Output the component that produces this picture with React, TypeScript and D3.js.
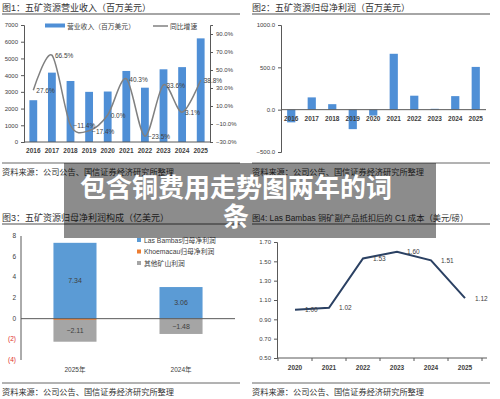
import React, { useEffect, useRef } from "react";
import * as d3 from "d3";

const W = 500;
const H = 399;
const CJK = "'Liberation Sans', 'Noto Sans CJK SC', sans-serif";
const BLUE = "#4f8fd6";
const AXIS = "#595959";
const TXT = "#404040";

// fig 1
const years1 = ["2016", "2017", "2018", "2019", "2020", "2021", "2022", "2023", "2024", "2025"];
const revenue = [2500, 4150, 3650, 3000, 3020, 4250, 3250, 4350, 4480, 6200];
const revGrowth = [27.6, 66.5, -11.4, -17.4, 0.0, 40.3, -23.5, 33.6, 3.1, 38.8];
const revTicksL = [0, 1000, 2000, 3000, 4000, 5000, 6000, 7000];
const revTicksR = [-30, -10, 10, 30, 50, 70, 90];

// fig 2
const netProfit = [-150, 145, 65, -230, -70, 660, 165, 10, 160, 505];
const profitTicks = [-500, 0, 500, 1000];

// fig 3
const mixCats = ["2025年", "2024年"];
const mixKeys = ["lasBambas", "khoemacau", "other"];
const mixNames = ["Las Bambas归母净利润", "Khoemacau归母净利润", "其他矿山利润"];
const mixColors = ["#5b9bd5", "#ed7d31", "#a5a5a5"];
const lasBambas = [7.34, 3.06];
const khoemacau = [-0.12, 0];
const otherMines = [-2.11, -1.48];
const mixTicks = [-4, -2, 0, 2, 4, 6, 8];

// fig 4
const years4 = ["2020", "2021", "2022", "2023", "2024", "2025"];
const c1Cost = [1.0, 1.02, 1.53, 1.6, 1.51, 1.12];
const c1Ticks = [0.5, 0.7, 0.9, 1.1, 1.3, 1.5, 1.7];

const titles = [
  "图1：五矿资源营业收入（百万美元）",
  "图2：五矿资源归母净利润（百万美元）",
  "图3：五矿资源归母净利润构成（亿美元）",
  "图4: Las Bambas 铜矿副产品抵扣后的 C1 成本（美元/磅）",
];
const source = "资料来源：公司公告、国信证券经济研究所整理";
const overlayLines = ["包含铜费用走势图两年的词", "条"];

export default function App() {
  const ref = useRef<SVGSVGElement>(null);

  useEffect(() => {
    const svg = d3.select(ref.current);
    svg.selectAll("*").remove();
    svg.append("rect").attr("width", W).attr("height", H).attr("fill", "#fff");

    // titles + rules
    const frame = (idx: number, x0: number, yTitle: number, yRule: number, ySrcRule: number) => {
      svg.append("text").attr("x", x0).attr("y", yTitle).attr("font-size", idx === 3 ? 8.3 : 9)
        .attr("fill", "#333").text(titles[idx]);
      svg.append("line").attr("x1", x0).attr("x2", x0 + 238).attr("y1", yRule).attr("y2", yRule)
        .attr("stroke", "#a6a6a6").attr("stroke-width", 2);
      svg.append("line").attr("x1", x0).attr("x2", x0 + 238).attr("y1", ySrcRule).attr("y2", ySrcRule)
        .attr("stroke", "#666").attr("stroke-width", 1);
      svg.append("text").attr("x", x0).attr("y", ySrcRule + 12).attr("font-size", 8.2)
        .attr("fill", "#333").text(source);
    };
    frame(0, 2, 11, 14, 163);
    frame(1, 252, 11, 14, 163);
    frame(2, 2, 221, 224, 383);
    frame(3, 252, 221, 224, 383);

    // ---------- fig 1
    {
      const x = d3.scaleBand().domain(years1).range([24, 210]).paddingInner(0.58).paddingOuter(0.29);
      const yL = d3.scaleLinear().domain([0, 7000]).range([142, 25]);
      const yR = d3.scaleLinear().domain([-30, 100]).range([142, 25]);
      const g = svg.append("g");
      g.selectAll("rect.bar").data(revenue).join("rect")
        .attr("x", (_, i) => x(years1[i])!).attr("width", x.bandwidth())
        .attr("y", (d) => yL(d)).attr("height", (d) => yL(0) - yL(d)).attr("fill", BLUE);

      const aL = g.append("g").attr("transform", "translate(24,0)")
        .call(d3.axisLeft(yL).tickValues(revTicksL).tickSize(3).tickFormat(d3.format("d")));
      const aR = g.append("g").attr("transform", "translate(210,0)")
        .call(d3.axisRight(yR).tickValues(revTicksR).tickSize(3).tickFormat((d) => d3.format(".1f")(+d) + "%"));
      const aB = g.append("g").attr("transform", "translate(0,142)")
        .call(d3.axisBottom(x).tickSize(0).tickPadding(6));
      [aL, aR, aB].forEach((a) => {
        a.selectAll("path,line").attr("stroke", AXIS);
        a.selectAll("text").attr("font-size", 6).attr("fill", TXT).attr("font-family", CJK);
      });
      aB.select(".domain").attr("d", "M24,0H210");
      aB.selectAll("text").attr("font-size", 6.5).attr("font-weight", "bold");

      const cx = (i: number) => x(years1[i])! + x.bandwidth() / 2;
      const line = d3.line<number>().x((_, i) => cx(i)).y((d) => yR(d)).curve(d3.curveCardinal.tension(0.1));
      g.append("path").datum(revGrowth).attr("d", line).attr("fill", "none")
        .attr("stroke", "#808080").attr("stroke-width", 1.5);
      g.selectAll("text.lbl").data(revGrowth).join("text").attr("class", "lbl")
        .attr("x", (_, i) => cx(i) + 3).attr("y", (d) => yR(d) + 3)
        .attr("font-size", 6.5).attr("fill", TXT).text((d) => d3.format(".1f")(d) + "%");

      // legend
      g.append("rect").attr("x", 45).attr("y", 23.5).attr("width", 20).attr("height", 4).attr("fill", BLUE);
      g.append("text").attr("x", 67).attr("y", 28.5).attr("font-size", 6.8).attr("fill", TXT).text("营业收入（百万美元）");
      g.append("line").attr("x1", 153).attr("x2", 168).attr("y1", 26).attr("y2", 26)
        .attr("stroke", "#808080").attr("stroke-width", 1.5);
      g.append("text").attr("x", 170).attr("y", 28.5).attr("font-size", 6.8).attr("fill", TXT).text("同比增速");
    }

    // ---------- fig 2
    {
      const x = d3.scaleBand().domain(years1).range([281, 486]).paddingInner(0.6).paddingOuter(0.3);
      const y = d3.scaleLinear().domain([-500, 1000]).range([152, 25]);
      const g = svg.append("g");
      g.selectAll("rect").data(netProfit).join("rect")
        .attr("x", (_, i) => x(years1[i])!).attr("width", x.bandwidth())
        .attr("y", (d) => y(Math.max(0, d))).attr("height", (d) => Math.abs(y(d) - y(0))).attr("fill", BLUE);
      const aL = g.append("g").attr("transform", "translate(281,0)")
        .call(d3.axisLeft(y).tickValues(profitTicks).tickSize(3).tickFormat(d3.format(".1f")));
      const aB = g.append("g").attr("transform", `translate(0,${y(0)})`)
        .call(d3.axisBottom(x).tickSize(0).tickPadding(7));
      [aL, aB].forEach((a) => {
        a.selectAll("path,line").attr("stroke", AXIS);
        a.selectAll("text").attr("font-size", 6).attr("fill", TXT).attr("font-family", CJK);
      });
      aB.select(".domain").attr("d", "M281,0H486");
      aB.selectAll("text").attr("font-size", 6.5).attr("font-weight", "bold");
    }

    // ---------- fig 3
    {
      const x = d3.scaleBand().domain(mixCats).range([21, 235]).paddingInner(0.594).paddingOuter(0.306);
      const y = d3.scaleLinear().domain([-4, 8]).range([360, 236]);
      const rows = mixCats.map((c, i) => ({ cat: c, lasBambas: lasBambas[i], khoemacau: khoemacau[i], other: otherMines[i] }));
      const series = d3.stack<any>().keys(mixKeys).offset(d3.stackOffsetDiverging)(rows);
      const g = svg.append("g");
      series.forEach((s, k) => {
        g.selectAll(`rect.s${k}`).data(s).join("rect").attr("class", `s${k}`)
          .attr("x", (d) => x(d.data.cat)!).attr("width", x.bandwidth())
          .attr("y", (d) => y(Math.max(d[0], d[1]))).attr("height", (d) => Math.abs(y(d[0]) - y(d[1])))
          .attr("fill", mixColors[k]);
      });
      [0, 2].forEach((k) => {
        g.selectAll(`text.l${k}`).data(series[k]).join("text").attr("class", `l${k}`)
          .attr("x", (d) => x(d.data.cat)! + x.bandwidth() / 2).attr("y", (d) => y((d[0] + d[1]) / 2) + 2.5)
          .attr("text-anchor", "middle").attr("font-size", 7).attr("fill", TXT)
          .text((d) => d3.format(".2f")(d.data[mixKeys[k]]));
      });
      g.append("line").attr("x1", 21).attr("x2", 21).attr("y1", 236).attr("y2", 360).attr("stroke", AXIS);
      g.append("line").attr("x1", 21).attr("x2", 235).attr("y1", y(0)).attr("y2", y(0)).attr("stroke", AXIS);
      g.selectAll("text.tk").data(mixTicks).join("text").attr("class", "tk")
        .attr("x", 16).attr("y", (d) => y(d) + 2).attr("text-anchor", "end").attr("font-size", 6.5)
        .attr("fill", (d) => (d < 0 ? "#e0302a" : TXT)).text((d) => (d < 0 ? `(${-d})` : `${d}`));
      g.selectAll("text.cat").data(mixCats).join("text").attr("class", "cat")
        .attr("x", (d) => x(d)! + x.bandwidth() / 2).attr("y", 372).attr("text-anchor", "middle")
        .attr("font-size", 6.5).attr("fill", TXT).text((d) => d);
      mixNames.forEach((n, k) => {
        g.append("rect").attr("x", 137).attr("y", 238 + k * 11.5).attr("width", 4).attr("height", 4).attr("fill", mixColors[k]);
        g.append("text").attr("x", 144).attr("y", 242.5 + k * 11.5).attr("font-size", 6.8).attr("fill", TXT).text(n);
      });
    }

    // ---------- fig 4
    {
      const x = d3.scaleBand().domain(years4).range([278, 482]);
      const y = d3.scaleLinear().domain([0.5, 1.7]).range([358, 242]);
      const g = svg.append("g");
      const aL = g.append("g").attr("transform", "translate(277,0)")
        .call(d3.axisLeft(y).tickValues(c1Ticks).tickSize(3).tickFormat(d3.format(".2f")));
      const aB = g.append("g").attr("transform", "translate(0,358)")
        .call(d3.axisBottom(x).tickSize(0).tickPadding(7));
      [aL, aB].forEach((a) => {
        a.selectAll("path,line").attr("stroke", AXIS);
        a.selectAll("text").attr("font-size", 6).attr("fill", TXT).attr("font-family", CJK);
      });
      aB.select(".domain").attr("d", "M277,0H487");
      aB.selectAll("text").attr("font-size", 6.5).attr("font-weight", "bold");
      g.selectAll("line.edge").data(years4.concat(["end"])).join("line").attr("class", "edge")
        .attr("x1", (_, i) => 278 + i * x.step()).attr("x2", (_, i) => 278 + i * x.step())
        .attr("y1", 358).attr("y2", 361).attr("stroke", AXIS);
      const cx = (i: number) => x(years4[i])! + x.bandwidth() / 2;
      const line = d3.line<number>().x((_, i) => cx(i)).y((d) => y(d));
      g.append("path").datum(c1Cost).attr("d", line).attr("fill", "none")
        .attr("stroke", "#2b4163").attr("stroke-width", 2);
      g.selectAll("text.lbl").data(c1Cost).join("text").attr("class", "lbl")
        .attr("x", (_, i) => cx(i) + 10).attr("y", (d) => y(d) + 2.5)
        .attr("font-size", 6.5).attr("fill", TXT).text((d) => d3.format(".2f")(d));
    }

    // ---------- overlay
    svg.append("rect").attr("x", 64).attr("y", 163).attr("width", 372).attr("height", 75)
      .attr("fill", "rgba(0,0,0,0.45)");
    overlayLines.forEach((t, i) => {
      svg.append("text").attr("x", 236).attr("y", 197 + i * 29).attr("text-anchor", "middle")
        .attr("font-size", 26).attr("font-weight", "bold").attr("fill", "#fff")
        .attr("font-family", "'Noto Sans CJK SC', sans-serif").text(t);
    });
  }, []);

  return (
    <div style={{ position: "absolute", left: 0, top: 0 }}>
      <svg ref={ref} width={W} height={H} style={{ display: "block", fontFamily: CJK }} />
    </div>
  );
}
